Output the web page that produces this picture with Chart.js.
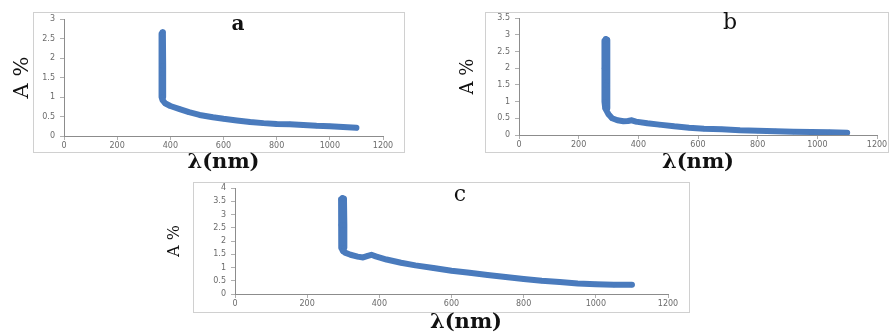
<!DOCTYPE html>
<html>
<head>
<meta charset="utf-8">
<script src="https://cdn.jsdelivr.net/npm/chart.js@4/dist/chart.umd.min.js"></script>
<style>
  html, body { margin: 0; padding: 0; background: #ffffff; }
  body { width: 890px; height: 334px; position: relative; overflow: hidden; }
  .box { position: absolute; border: 1.5px solid #d0d0d0; box-sizing: border-box; }
  canvas { position: absolute; }
</style>
</head>
<body>
<div class="box" style="left:33px;top:12px;width:372px;height:141px;"></div>
<div class="box" style="left:485px;top:12px;width:404px;height:141px;"></div>
<div class="box" style="left:193px;top:182px;width:497px;height:131px;"></div>
<canvas id="ca" width="420" height="175" style="left:0px;top:0px;"></canvas>
<canvas id="cb" width="450" height="175" style="left:440px;top:0px;"></canvas>
<canvas id="cc" width="560" height="164" style="left:150px;top:170px;"></canvas>
<script>
// ---- data ----
const panelLabels = ["a", "b", "c"];
const xTitle = "λ(nm)";
const yTitle = "A %";
const xTicks = [0, 200, 400, 600, 800, 1000, 1200];
const yMaxA = 3, yMaxB = 3.5, yMaxC = 4;

// each series: left edge of the steep band going down, right edge back up, then the tail
const seriesA = [
  [367, 2.62], [367, 1.8], [367, 1.0], [370, 0.93], [373, 1.0], [373, 1.8], [372, 2.66],
  [370, 2.6], [370, 1.6], [372, 0.92], [380, 0.84], [400, 0.77], [435, 0.69],
  [470, 0.61], [510, 0.54], [560, 0.48], [600, 0.44], [650, 0.40], [700, 0.36],
  [750, 0.33], [800, 0.31], [850, 0.30], [900, 0.28], [950, 0.26], [1000, 0.25],
  [1050, 0.23], [1100, 0.21]
];
const seriesB = [
  [287, 2.82], [286, 2.0], [287, 1.0], [289, 0.8], [295, 0.8], [296, 1.6], [296, 2.85],
  [291, 2.87], [291, 1.5], [292, 0.75], [300, 0.62], [312, 0.50], [330, 0.44],
  [350, 0.41], [365, 0.42], [378, 0.44], [392, 0.40], [430, 0.35], [470, 0.31],
  [520, 0.26], [570, 0.22], [620, 0.19], [680, 0.17], [740, 0.14], [800, 0.13],
  [860, 0.11], [920, 0.10], [980, 0.09], [1040, 0.08], [1100, 0.07]
];
const seriesC = [
  [294, 3.58], [294, 2.6], [295, 1.75], [299, 1.62], [303, 1.75], [303, 2.6], [302, 3.6],
  [298, 3.62], [298, 2.4], [300, 1.62], [305, 1.56], [320, 1.48], [340, 1.41], [355, 1.38],
  [368, 1.44], [378, 1.48], [390, 1.42], [420, 1.30], [460, 1.18], [500, 1.08],
  [550, 0.98], [600, 0.88], [650, 0.80], [700, 0.72], [750, 0.64], [800, 0.57],
  [850, 0.50], [900, 0.45], [950, 0.40], [1000, 0.37], [1050, 0.35], [1100, 0.35]
];

// ---- styling / layout ----
const blue = '#4a7bbd';
const axisGray = '#8c8c8c';
const tickColor = '#6b6b6b';
const serif = "'DejaVu Serif', 'Liberation Serif', serif";

const textPlugin = {
  id: 'panelText',
  afterDraw(chart, args, opts) {
    const ctx = chart.ctx;
    (opts.items || []).forEach(it => {
      ctx.save();
      ctx.fillStyle = '#111';
      ctx.font = it.font;
      ctx.textAlign = 'center';
      ctx.textBaseline = 'middle';
      ctx.fillText(it.text, it.x, it.y);
      ctx.restore();
    });
  }
};

function makeChart(id, data, yMax, cfg) {
  const ctx = document.getElementById(id);
  return new Chart(ctx, {
    type: 'scatter',
    data: {
      datasets: [{
        data: data.map(p => ({x: p[0], y: p[1]})),
        showLine: true,
        borderColor: blue,
        backgroundColor: blue,
        borderWidth: 6,
        borderJoinStyle: 'round',
        borderCapStyle: 'round',
        pointRadius: 2.5,
        pointBorderWidth: 0,
        tension: 0
      }]
    },
    options: {
      responsive: false,
      devicePixelRatio: 1,
      animation: false,
      events: [],
      layout: { padding: { left: 0, top: cfg.top, right: cfg.right, bottom: 0 } },
      plugins: {
        legend: { display: false },
        tooltip: { enabled: false },
        panelText: { items: cfg.items }
      },
      scales: {
        x: {
          type: 'linear',
          min: 0, max: 1200,
          afterBuildTicks: s => { s.ticks = xTicks.map(v => ({value: v})); },
          ticks: { color: tickColor, font: { family: "'DejaVu Sans', sans-serif", size: 8 }, padding: 1, maxRotation: 0,
                   callback: v => String(v) },
          grid: { display: true, drawOnChartArea: false, drawTicks: true, tickLength: 4, color: '#b0b0b0' },
          border: { display: true, color: axisGray, width: 1 },
          title: { display: cfg.xTitleOn, text: xTitle, color: '#111',
                   font: { family: serif, size: 21, weight: 'bold', lineHeight: 1 },
                   padding: { top: 0, bottom: 1.5 } },
          afterFit: s => { s.height = cfg.xH; }
        },
        y: {
          type: 'linear',
          min: 0, max: yMax,
          ticks: { stepSize: 0.5, color: tickColor, font: { family: "'DejaVu Sans', sans-serif", size: 8 }, padding: 5,
                   callback: v => String(v) },
          grid: { display: true, drawOnChartArea: false, drawTicks: true, tickLength: 4, color: '#b0b0b0' },
          border: { display: true, color: axisGray, width: 1 },
          title: { display: true, text: yTitle, color: '#111',
                   font: { family: serif, size: cfg.yFont, lineHeight: 1 },
                   padding: { top: cfg.yPad, bottom: 0 } },
          afterFit: s => { s.width = cfg.yW; }
        }
      }
    },
    plugins: [textPlugin]
  });
}

makeChart('ca', seriesA, yMaxA, {
  top: 19, right: 37, xH: 39, yW: 64, yFont: 21, yPad: 12.5, xTitleOn: true,
  items: [{ text: panelLabels[0], x: 238, y: 25, font: "bold 20px " + serif }]
});
makeChart('cb', seriesB, yMaxB, {
  top: 18, right: 13, xH: 40, yW: 79, yFont: 18, yPad: 19, xTitleOn: true,
  items: [{ text: panelLabels[1], x: 290, y: 23, font: "22px " + serif }]
});
makeChart('cc', seriesC, yMaxC, {
  top: 18, right: 42, xH: 40, yW: 85, yFont: 16, yPad: 17, xTitleOn: false,
  items: [
    { text: panelLabels[2], x: 310, y: 25, font: "22px " + serif },
    { text: xTitle, x: 316, y: 153, font: "bold 21px " + serif }
  ]
});
</script>
</body>
</html>
